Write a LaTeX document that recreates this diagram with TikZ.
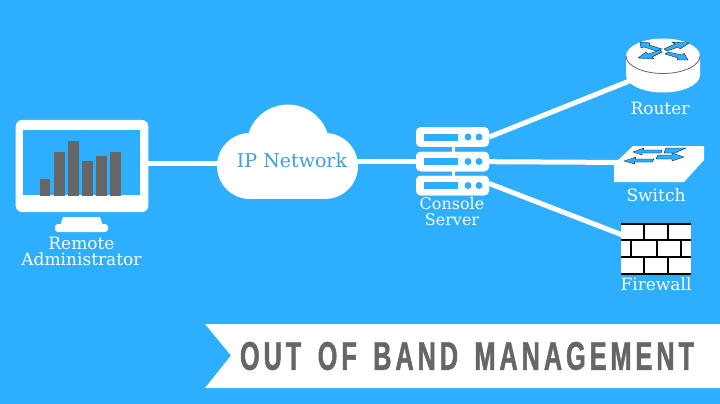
\documentclass[tikz,border=0pt]{standalone}
\usepackage{fontspec}
\setmainfont{DejaVu Serif}
\newfontfamily\bannerfont[FakeStretch=0.63,LetterSpace=10,FakeBold=1.2,WordSpace=1.5]{Liberation Sans Bold}
\usetikzlibrary{positioning}
\definecolor{netblue}{RGB}{45,174,255}
\definecolor{bargray}{RGB}{102,102,102}
\definecolor{labelblue}{RGB}{60,160,225}
\tikzset{
  caption/.style={text=white,font=\fontsize{17}{16}\selectfont,inner sep=0pt,align=center},
  link/.style={draw=white,line width=5pt},
  bar/.style={fill=bargray},
  rack/.style={rectangle,fill=white,rounded corners=4.5pt,minimum width=73pt,minimum height=19.5pt,inner sep=0pt},
  slot/.style={fill=netblue},
  brick/.style={black,line width=2pt},
  portarrow/.style={fill=netblue,draw=black,line width=0.3pt}
}
\begin{document}
\begin{tikzpicture}[x=1pt,y=-1pt]
\fill[netblue] (0,0) rectangle (720,404);
\useasboundingbox (0,0) rectangle (720,404);
% Nodes that the links hang on
\node[rectangle,minimum width=132.5pt,minimum height=92pt,inner sep=0pt] (monitor) at (82,166) {};
\node[rack] (srvtop) at (452.5,137) {};
\node[rack] (srvmid) at (452.5,161.5) {};
\node[rack] (srvbot) at (452.5,185.5) {};
\coordinate (netleft) at (240,163.5);
\coordinate (netright) at (340,161.5);
\coordinate (routerport) at (632,80);
\coordinate (switchport) at (630,162.5);
\coordinate (firewallport) at (625,236);
\coordinate (monport) at (monitor.east |- netleft);
% Links
\draw[link] (monport) -- (netleft);
\draw[link] (netright) -- (srvmid);
\draw[link] (srvtop.east) -- (routerport);
\draw[link] (srvmid) -- (switchport);
\draw[link] ([yshift=2pt]srvbot.east) -- (firewallport);
% Monitor
\fill[white,rounded corners=7pt] (monitor.north west) rectangle (monitor.south east);
\fill[netblue] (23,130) rectangle (140,195);
\fill[bar] (39.5,179) rectangle (50,196);
\fill[bar] (54,152) rectangle (64.5,196);
\fill[bar] (68,141) rectangle (79,196);
\fill[bar] (82,161) rectangle (92.5,196);
\fill[bar] (96,156) rectangle (106.5,196);
\fill[bar] (110,152) rectangle (121,196);
\fill[white] (63,217) -- (100,217) -- (103,226) -- (60,226) -- cycle;
\fill[white,rounded corners=3pt] (55,224) rectangle (108,232);
\node[caption] (remote) at (81.5,251.5) {Remote\\Administrator};
% Cloud
\fill[white] (288,146) circle (41.5);
\fill[white] (250,166) circle (33);
\fill[white] (325,166) circle (33);
\fill[white] (250,166) rectangle (325,199);
\node[text=labelblue,font=\fontsize{19}{20}\selectfont,inner sep=0pt] (netlabel) at (292,160) {IP Network};
% Console server
\fill[white] (451.5,137) rectangle (455,195);
\foreach \rackname/\rowy in {srvtop/137,srvmid/161.5,srvbot/185.5} {
  \node[rack] at (\rackname) {};
  \fill[slot] (424,\rowy-3.5) rectangle (458,\rowy+3.5);
  \fill[slot] (468,\rowy) circle (3.5);
  \fill[slot] (479,\rowy) circle (3.5);
}
\node[caption,font=\fontsize{16}{16}\selectfont] (consolelabel) at (452,212) {Console\\Server};
% Router
\fill[white] (626,56) -- (626,75) arc[start angle=180,end angle=0,x radius=37,y radius=17.5] -- (700,56) -- cycle;
\fill[white] (663,56) ellipse (37 and 17.5);
\draw[bargray,line width=0.8pt] (626,56) arc[start angle=180,end angle=0,x radius=37,y radius=17.5];
\draw[portarrow] (640,42) -- (650,43) -- (649,45) -- (662,49) -- (656,51) -- (644,47) -- (641,48) -- cycle;
\draw[portarrow] (689,43) -- (680,49) -- (678,47) -- (667,51) -- (664,49) -- (675,44) -- (672,42) -- cycle;
\draw[portarrow] (638,58) -- (646,52) -- (648,54) -- (660,50) -- (662,52) -- (652,57) -- (654,59) -- cycle;
\draw[portarrow] (688,60) -- (677,60) -- (678,58) -- (665,54) -- (668,52) -- (682,55) -- (684,53) -- cycle;
\node[caption] (routerlabel) at (660,108.5) {Router};
% Switch
\fill[white] (614,164) -- (633,146) -- (704,146) -- (704,160) -- (684,182) -- (614,182) -- cycle;
\draw[portarrow] (633,152) -- (644,148) -- (643,150) -- (662,150) -- (661,153) -- (642,153) -- (642,155) -- cycle;
\draw[portarrow] (686,148) -- (677,152) -- (677,153) -- (664,153) -- (666,148) -- cycle;
\draw[portarrow] (624,161) -- (636,157) -- (635,159) -- (654,159) -- (652,162) -- (634,162) -- (635,164) -- cycle;
\draw[portarrow] (684,157) -- (672,161) -- (672,159) -- (656,159) -- (658,155) -- (672,155) -- (672,153) -- cycle;
\node[caption] (switchlabel) at (656,195) {Switch};
% Firewall
\fill[white] (621,223) rectangle (691,275);
\foreach \wally in {224,240,257,274}
  \draw[brick] (621,\wally) -- (691,\wally);
\foreach \wallx in {644,668} \draw[brick] (\wallx,224) -- (\wallx,240);
\foreach \wallx in {631,657,681} \draw[brick] (\wallx,240) -- (\wallx,257);
\foreach \wallx in {644,668} \draw[brick] (\wallx,257) -- (\wallx,274);
\node[caption] (firewalllabel) at (656,284) {Firewall};
% Banner
\fill[white] (205,324) -- (720,324) -- (720,388) -- (205,388) -- (231,355.5) -- cycle;
\node[text=bargray,font=\bannerfont\fontsize{40}{44}\selectfont,inner sep=0pt] (bannertext) at (467,356) {OUT OF BAND MANAGEMENT};
\end{tikzpicture}
\end{document}
